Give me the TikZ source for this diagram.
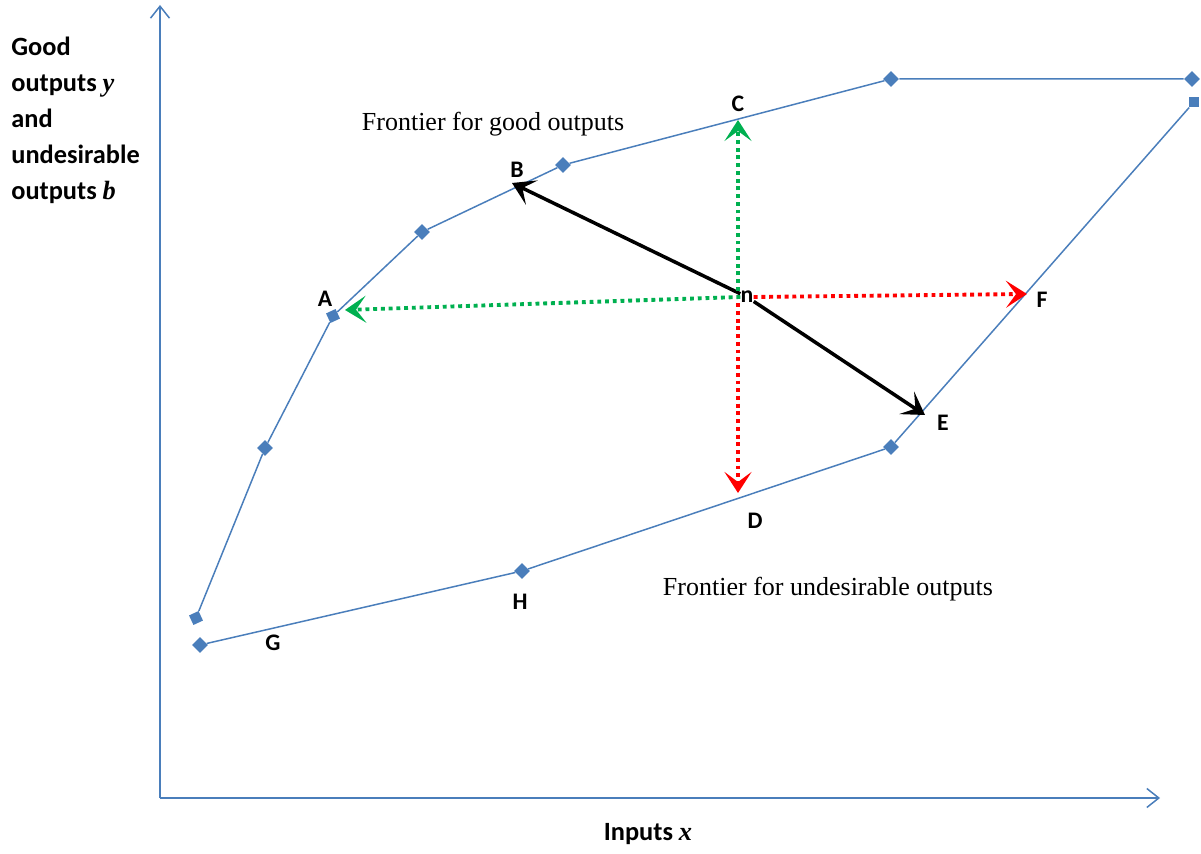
\documentclass[tikz,border=0pt]{standalone}
\usepackage{fontspec}
\setmainfont{Liberation Serif}
\newfontfamily\lblfont{Carlito}
\usetikzlibrary{arrows.meta, shapes.geometric}

\definecolor{frontblue}{RGB}{74,126,187}
\definecolor{dirgreen}{RGB}{0,176,80}
\definecolor{dirred}{RGB}{255,0,0}

\newcommand{\axvar}[1]{{\rmfamily\bfseries\itshape #1}}

\begin{document}
\begin{tikzpicture}[
  every node/.style={font=\lblfont\bfseries\fontsize{13.5}{15}\selectfont, inner sep=0pt},
  frontier/.style={draw=frontblue, line width=0.85pt},
  axis/.style={draw=frontblue, line width=0.85pt, -{Straight Barb[length=2.4mm,width=3.8mm]}},
  dmark/.style={diamond, fill=frontblue, minimum size=0.32cm},
  smark/.style={rectangle, fill=frontblue, minimum size=0.21cm},
  move/.style={-{Stealth[length=4.4mm,width=5.4mm,inset=2.1mm]}, black, line width=2pt},
  gooddir/.style={-{Stealth[length=4.2mm,width=5.4mm,inset=2mm]}, dirgreen, line width=2.2pt, dash pattern=on 2.2pt off 2.2pt},
  baddir/.style={-{Stealth[length=4.2mm,width=5.4mm,inset=2mm]}, dirred, line width=2.2pt, dash pattern=on 2.2pt off 2.2pt},
  caption/.style={font=\rmfamily\fontsize{14.8}{17}\selectfont}]

  \useasboundingbox (0,0) rectangle (24.02,17.06);

  % axes
  \coordinate (o)    at (3.2, 1.1);
  \coordinate (ytop) at (3.2, 16.96);
  \coordinate (xend) at (23.2, 1.1);
  \draw[axis] (o) -- (ytop);
  \draw[axis] (o) -- (xend);

  \node[anchor=north west, align=left,
        font=\lblfont\bfseries\fontsize{15}{20.4}\selectfont] (ylab) at (0.22, 16.32)
    {Good\\outputs \axvar{y}\\and\\undesirable\\outputs \axvar{b}};
  \node[font=\lblfont\bfseries\fontsize{15}{17}\selectfont] (xlab) at (12.96, 0.38) {Inputs \axvar{x}};

  % frontier for good outputs
  \node[smark, rotate=25] (g1) at (3.92,  4.70) {};
  \node[dmark]            (g2) at (5.30,  8.10) {};
  \node[smark, rotate=25] (g3) at (6.66, 10.74) {};
  \node[dmark]            (g4) at (8.44, 12.42) {};
  \node[dmark]            (g5) at (11.26, 13.76) {};
  \node[dmark]            (g6) at (17.82, 15.48) {};
  \node[dmark]            (g7) at (23.84, 15.48) {};
  \draw[frontier] (g1) -- (g2) -- (g3) -- (g4) -- (g5) -- (g6) -- (g7);

  % frontier for undesirable outputs
  \node[dmark] (u1) at (4.00,  4.16) {};
  \node[dmark] (u2) at (10.44, 5.64) {};
  \node[dmark] (u3) at (17.82, 8.12) {};
  \node[smark] (u4) at (23.88, 15.02) {};
  \draw[frontier] (u1) -- (u2) -- (u3) -- (u4);

  % projection targets
  \coordinate (tipA) at (6.90, 10.86);
  \coordinate (tipB) at (10.24, 13.40);
  \coordinate (tipC) at (14.76, 14.66);
  \coordinate (tipD) at (14.76, 7.20);
  \coordinate (tipE) at (18.50, 8.76);
  \coordinate (tipF) at (20.54, 11.18);

  \node (n) at (14.94, 11.12) {n};

  \draw[move]    (n) -- (tipB);
  \draw[move]    (n) -- (tipE);
  \draw[gooddir] (n.west) -- (tipA);
  \draw[gooddir] (tipC |- n.north) -- (tipC);
  \draw[baddir]  (n.east) -- (tipF);
  \draw[baddir]  (tipD |- n.south) -- (tipD);

  % point labels
  \node (labA) at (6.50, 11.08) {A};
  \node (labB) at (10.34, 13.66) {B};
  \node (labC) at (14.76, 14.98) {C};
  \node (labD) at (15.10, 6.64) {D};
  \node (labE) at (18.86, 8.60) {E};
  \node (labF) at (20.84, 11.06) {F};
  \node (labG) at (5.46, 4.20) {G};
  \node (labH) at (10.40, 5.02) {H};

  \node[caption] (goodcap) at (9.86, 14.58) {Frontier for good outputs};
  \node[caption] (badcap)  at (16.56, 5.28) {Frontier for undesirable outputs};

\end{tikzpicture}
\end{document}
